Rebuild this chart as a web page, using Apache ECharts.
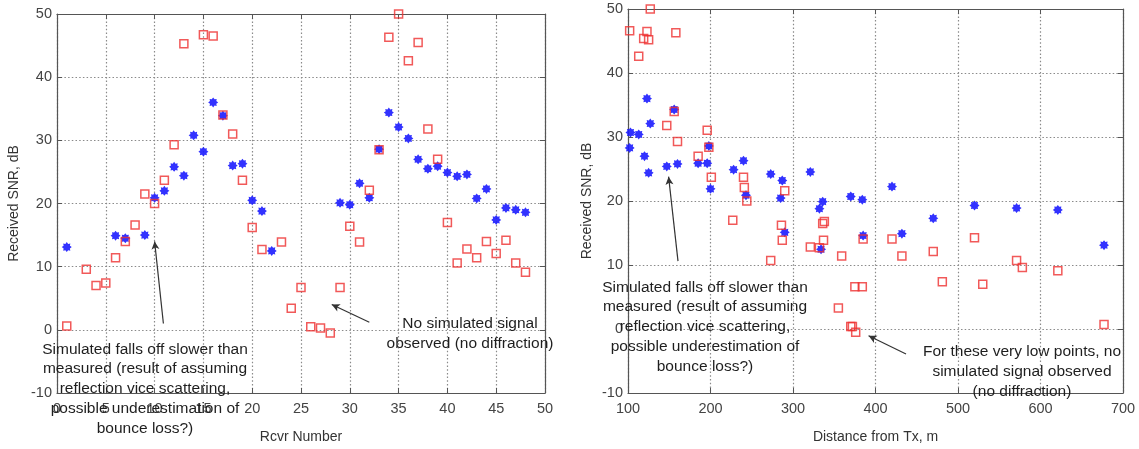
<!DOCTYPE html>
<html>
<head>
<meta charset="utf-8">
<script src="https://cdn.jsdelivr.net/npm/echarts@6/dist/echarts.min.js"></script>
<style>
  html, body { margin: 0; padding: 0; background: #fff; }
  #chart { width: 1139px; height: 449px; }
</style>
</head>
<body>
<div id="chart"></div>
<script>
// receiver numbers 1..48, null = no point plotted
const rcvrNumbers = Array.from({length: 48}, (_, i) => i + 1)
const measuredSnr = [
  0.6, null, 9.6, 7.0, 7.4, 11.4, 14.0, 16.6, 21.5, 20.0,
  23.7, 29.3, 45.3, null, 46.7, 46.5, 34.0, 31.0, 23.7, 16.2,
  12.7, null, 13.9, 3.4, 6.7, 0.5, 0.3, -0.5, 6.7, 16.4,
  13.9, 22.1, 28.5, 46.3, 50.0, 42.6, 45.5, 31.8, 27.0, 17.0,
  10.6, 12.8, 11.4, 14.0, 12.1, 14.2, 10.6, 9.1
]
const simulatedSnr = [
  13.1, null, null, null, null, 14.9, 14.5, null, 15.0, 20.9,
  22.0, 25.8, 24.4, 30.8, 28.2, 36.0, 33.9, 26.0, 26.3, 20.5,
  18.8, 12.5, null, null, null, null, null, null, 20.1, 19.8,
  23.2, 20.9, 28.6, 34.4, 32.1, 30.3, 27.0, 25.5, 25.9, 24.9,
  24.3, 24.6, 20.8, 22.3, 17.4, 19.3, 19.0, 18.6
]

// right panel: SNR against distance from Tx (m)
const simDistance = [102, 103, 113, 120, 123, 125, 127, 147, 156, 160, 185, 196, 198, 200, 228, 240, 243, 273, 285, 287, 290, 321, 332, 334, 336, 370, 384, 385, 420, 432, 470, 520, 571, 621, 677]
const simSnrByDist = [28.3, 30.7, 30.4, 27.0, 36.0, 24.4, 32.1, 25.4, 34.3, 25.8, 25.9, 25.9, 28.6, 21.9, 24.9, 26.3, 20.9, 24.2, 20.45, 23.2, 15.1, 24.55, 18.8, 12.45, 19.9, 20.7, 20.2, 14.6, 22.25, 14.9, 17.3, 19.3, 18.9, 18.6, 13.1]
const measDistance = [102, 113, 119, 123, 125, 127, 147, 156, 158, 160, 185, 196, 198, 201, 227, 240, 241, 244, 273, 286, 287, 290, 321, 332, 336, 337, 338, 355, 359, 370, 372, 375, 376, 384, 385, 420, 432, 470, 481, 520, 530, 571, 578, 621, 677]
const measSnrByDist = [46.6, 42.6, 45.4, 46.5, 45.2, 50.0, 31.8, 34.0, 46.3, 29.3, 27.0, 31.05, 28.4, 23.7, 17.0, 23.7, 22.1, 20.0, 10.7, 16.2, 13.85, 21.6, 12.8, 12.7, 16.5, 13.85, 16.8, 3.3, 11.4, 0.4, 0.4, 6.6, -0.5, 6.6, 14.05, 14.05, 11.4, 12.1, 7.4, 14.25, 7.0, 10.7, 9.6, 9.1, 0.7]

const snrTicks = {min: -10, max: 50, interval: 10}
const rcvrTicks = {min: 0, max: 50, interval: 5}
const distTicks = {min: 100, max: 700, interval: 100}

const leftNote = 'Simulated falls off slower than\nmeasured (result of assuming\nreflection vice scattering,\npossible underestimation of\nbounce loss?)'
const leftNote2 = 'No simulated signal\nobserved (no diffraction)'
const rightNote = leftNote
const rightNote2 = 'For these very low points, no\nsimulated signal observed\n(no diffraction)'

function pairs(xs, ys) {
  return xs.map((x, i) => [x, ys[i]]).filter(p => p[1] !== null)
}

const FONT = '"Liberation Sans", Arial, sans-serif'
const BLUE = '#1c1cff'
const RED = '#ee3030'
const starPath = 'path://M0,-10 L2.8,-6.3 L7.1,-7.1 L6.3,-2.8 L10,0 L6.3,2.8 L7.1,7.1 L2.8,6.3 L0,10 L-2.8,6.3 L-7.1,7.1 L-6.3,2.8 L-10,0 L-6.3,-2.8 L-7.1,-7.1 L-2.8,-6.3 Z'

function bottomAxis(gridIndex, ticks, name) {
  return {
    type: 'value', gridIndex: gridIndex, position: 'bottom',
    min: ticks.min, max: ticks.max, interval: ticks.interval,
    name: name, nameLocation: 'middle', nameGap: 37,
    nameTextStyle: {fontFamily: FONT, fontSize: 14, color: '#333'},
    axisLine: {show: true, onZero: false, lineStyle: {color: '#555', width: 1.2}},
    axisTick: {show: true, inside: true, length: 5, lineStyle: {color: '#555'}},
    axisLabel: {fontFamily: FONT, fontSize: 14.5, color: '#444', margin: 8},
    splitLine: {show: true, lineStyle: {color: '#8a8a8a', type: [1.5, 2.2], width: 1.2}}
  }
}
function topAxis(gridIndex, ticks) {
  return {
    type: 'value', gridIndex: gridIndex, position: 'top',
    min: ticks.min, max: ticks.max, interval: ticks.interval,
    axisLine: {show: true, onZero: false, lineStyle: {color: '#555', width: 1.2}},
    axisTick: {show: true, inside: true, length: 5, lineStyle: {color: '#555'}},
    axisLabel: {show: false},
    splitLine: {show: false}
  }
}
function leftAxis(gridIndex, nameGap) {
  return {
    type: 'value', gridIndex: gridIndex, position: 'left',
    min: snrTicks.min, max: snrTicks.max, interval: snrTicks.interval,
    name: 'Received SNR, dB', nameLocation: 'middle', nameGap: nameGap,
    nameTextStyle: {fontFamily: FONT, fontSize: 14, color: '#333'},
    axisLine: {show: true, onZero: false, lineStyle: {color: '#555', width: 1.2}},
    axisTick: {show: true, inside: true, length: 5, lineStyle: {color: '#555'}},
    axisLabel: {fontFamily: FONT, fontSize: 14.5, color: '#444', margin: 5},
    splitLine: {show: true, lineStyle: {color: '#8a8a8a', type: [1.5, 2.2], width: 1.2}}
  }
}
function rightAxis(gridIndex) {
  return {
    type: 'value', gridIndex: gridIndex, position: 'right',
    min: snrTicks.min, max: snrTicks.max, interval: snrTicks.interval,
    axisLine: {show: true, onZero: false, lineStyle: {color: '#555', width: 1.2}},
    axisTick: {show: true, inside: true, length: 5, lineStyle: {color: '#555'}},
    axisLabel: {show: false},
    splitLine: {show: false}
  }
}

function arrows(list) {
  return {
    silent: true,
    symbol: ['none', 'arrow'],
    symbolSize: [6, 8],
    label: {show: false},
    lineStyle: {color: '#333', width: 1.2, type: 'solid'},
    data: list.map(a => [{coord: a[0]}, {coord: a[1]}])
  }
}

function noteText(text, x, y) {
  return {
    type: 'text', x: x, y: y, z: 100,
    style: {
      text: text, align: 'center', verticalAlign: 'middle',
      font: '15.5px ' + FONT, lineHeight: 19.8, fill: '#1e1e1e'
    }
  }
}

const chart = echarts.init(document.getElementById('chart'))
chart.setOption({
  animation: false,
  backgroundColor: '#fff',
  grid: [
    {left: 57, right: 594, top: 14, bottom: 50},
    {left: 628, right: 16, top: 9, bottom: 49}
  ],
  xAxis: [
    bottomAxis(0, rcvrTicks, 'Rcvr Number'),
    topAxis(0, rcvrTicks),
    bottomAxis(1, distTicks, 'Distance from Tx, m'),
    topAxis(1, distTicks)
  ],
  yAxis: [
    leftAxis(0, 36),
    rightAxis(0),
    leftAxis(1, 34),
    rightAxis(1)
  ],
  series: [
    {
      name: 'Simulated', type: 'scatter', xAxisIndex: 0, yAxisIndex: 0,
      symbol: starPath, symbolSize: 10,
      itemStyle: {color: BLUE, opacity: 0.9},
      data: pairs(rcvrNumbers, simulatedSnr)
    },
    {
      name: 'Measured', type: 'scatter', xAxisIndex: 0, yAxisIndex: 0,
      symbol: 'rect', symbolSize: 8,
      itemStyle: {color: 'rgba(255,255,255,0)', borderColor: RED, borderWidth: 1.5},
      data: pairs(rcvrNumbers, measuredSnr),
      markLine: arrows([
        [[10.9, 1], [10, 14]],
        [[32, 1.2], [28.15, 4]]
      ])
    },
    {
      name: 'Simulated', type: 'scatter', xAxisIndex: 2, yAxisIndex: 2,
      symbol: starPath, symbolSize: 10,
      itemStyle: {color: BLUE, opacity: 0.9},
      data: pairs(simDistance, simSnrByDist)
    },
    {
      name: 'Measured', type: 'scatter', xAxisIndex: 2, yAxisIndex: 2,
      symbol: 'rect', symbolSize: 8,
      itemStyle: {color: 'rgba(255,255,255,0)', borderColor: RED, borderWidth: 1.5},
      data: pairs(measDistance, measSnrByDist),
      markLine: arrows([
        [[160.6, 10.6], [149.2, 23.8]],
        [[437, -3.9], [391.6, -1.06]]
      ])
    }
  ],
  graphic: [
    noteText(leftNote, 145, 389),
    noteText(leftNote2, 470, 334),
    noteText(rightNote, 705, 327),
    noteText(rightNote2, 1022, 372)
  ]
})
</script>
</body>
</html>
